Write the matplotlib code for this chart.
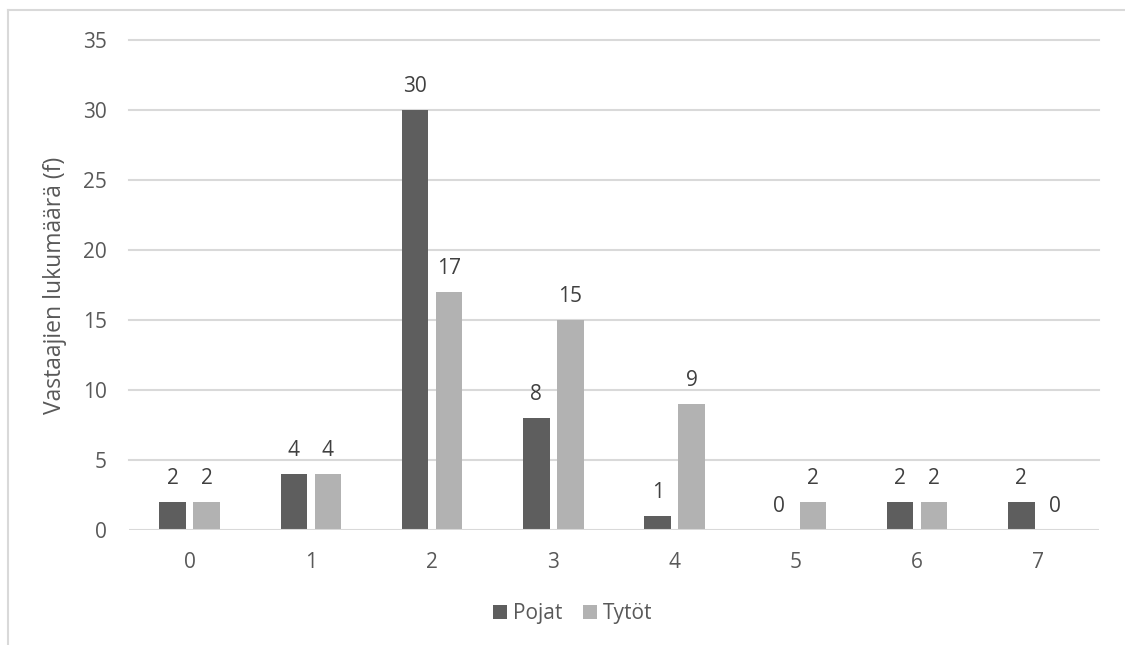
import matplotlib
matplotlib.use("Agg")
from matplotlib import pyplot as plt
from matplotlib.lines import Line2D
import numpy as np

# Data
categories = ['0', '1', '2', '3', '4', '5', '6', '7']
pojat = [2, 4, 30, 8, 1, 0, 2, 2]
tytot = [2, 4, 17, 15, 9, 2, 2, 0]
series_names = ['Pojat', 'Tytöt']

plt.rcParams['font.family'] = ['Open Sans', 'DejaVu Sans']

text_col = '#595959'
grid_col = '#d9d9d9'
dark = '#5e5e5e'
light = '#b2b2b2'
fs = 15

fig = plt.figure(figsize=(11.25, 6.45), dpi=100)
ax = fig.add_axes([129 / 1125, 1 - 530 / 645, 970 / 1125, 490 / 645])

x = np.arange(len(categories))
w = 0.22
off = 0.14
b1 = ax.bar(x - off, pojat, w, color=dark, label=series_names[0], zorder=3)
b2 = ax.bar(x + off, tytot, w, color=light, label=series_names[1], zorder=3)

ax.bar_label(b1, padding=9, fontsize=fs, color='#404040')
ax.bar_label(b2, padding=9, fontsize=fs, color='#404040')

ax.set_xlim(-0.5, len(categories) - 0.5)
ax.set_ylim(0, 35)
ax.set_yticks(np.arange(0, 36, 5))
ax.set_xticks(x)
ax.set_xticklabels(categories)

# gridlines incl. the top one at 35
for v in np.arange(5, 36, 5):
    ax.axhline(v, color=grid_col, lw=1.5, zorder=0, clip_on=False)
ax.axhline(0, color=grid_col, lw=1.5, zorder=4)

for s in ax.spines.values():
    s.set_visible(False)
ax.tick_params(axis='both', length=0, labelsize=fs, labelcolor=text_col)
ax.tick_params(axis='y', pad=16)
ax.tick_params(axis='x', pad=16)

ax.set_ylabel('Vastaajien lukumäärä (f)', fontsize=16.5, color=text_col)
ax.yaxis.set_label_coords(-0.064, 0.5)

leg = fig.legend(loc='center', bbox_to_anchor=(573 / 1125, 1 - 614 / 645), ncol=2,
                 frameon=False, fontsize=fs, handlelength=0.65, handleheight=0.65,
                 handletextpad=0.3, columnspacing=1.0)
for t in leg.get_texts():
    t.set_color(text_col)

# outer chart frame (cut at right and bottom)
fig.add_artist(Line2D([8 / 1125, 1], [1 - 10 / 645, 1 - 10 / 645],
                      transform=fig.transFigure, color=grid_col, lw=1.5))
fig.add_artist(Line2D([8 / 1125, 8 / 1125], [0, 1 - 10 / 645],
                      transform=fig.transFigure, color=grid_col, lw=1.5))

fig.savefig('out.png', dpi=100)
